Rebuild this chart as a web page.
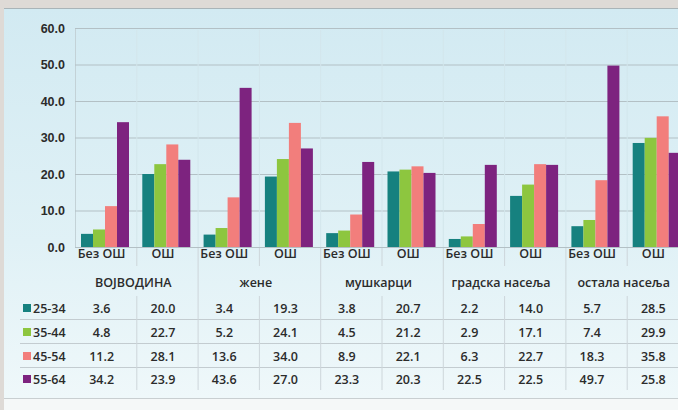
<!DOCTYPE html>
<html>
<head>
<meta charset="utf-8">
<script src="https://cdn.jsdelivr.net/npm/d3@7"></script>
<style>
  body { margin: 0; background: #dedad6; }
  svg { display: block; font-family: 'Open Sans', sans-serif; font-weight: 600; }
  text { fill: #2b2b2b; }
</style>
</head>
<body>
<div id="chart"></div>
<script>
// groups and sub columns
var groups = ['ВОЈВОДИНА', 'жене', 'мушкарци', 'градска насеља', 'остала насеља']
var subCols = ['Без ОШ', 'ОШ']
var ageGroups = ['25-34', '35-44', '45-54', '55-64']

var v2534 = [3.6, 20.0, 3.4, 19.3, 3.8, 20.7, 2.2, 14.0, 5.7, 28.5]
var v3544 = [4.8, 22.7, 5.2, 24.1, 4.5, 21.2, 2.9, 17.1, 7.4, 29.9]
var v4554 = [11.2, 28.1, 13.6, 34.0, 8.9, 22.1, 6.3, 22.7, 18.3, 35.8]
var v5564 = [34.2, 23.9, 43.6, 27.0, 23.3, 20.3, 22.5, 22.5, 49.7, 25.8]

var yTicks = [0, 10, 20, 30, 40, 50, 60]

var seriesValues = [v2534, v3544, v4554, v5564]
var colors = ['#16817f', '#8dc63f', '#f27e7c', '#7d237f']

var width = 678
var height = 410
var fontSize = '12.5px'

var svg = d3
  .select('#chart')
  .append('svg')
  .attr('width', width)
  .attr('height', height)

// column keys, one per bar group
var columns = []
groups.forEach((g, gi) => {
  subCols.forEach((s, si) => {
    columns.push({ key: gi + '-' + si, group: g, sub: s, idx: gi * 2 + si })
  })
})

var plotLeft = 75
var colStep = 61.3

const xScale = d3
  .scaleBand()
  .domain(columns.map(d => d.key))
  .range([plotLeft, plotLeft + colStep * columns.length])

const barScale = d3
  .scaleBand()
  .domain(ageGroups)
  .range([6, 54])

const yScale = d3
  .scaleLinear()
  .domain([0, 60])
  .range([247, 28])

// panel background
var defs = svg.append('defs')
var grad = defs
  .append('linearGradient')
  .attr('id', 'panelGrad')
  .attr('x1', 0)
  .attr('y1', 0)
  .attr('x2', 0)
  .attr('y2', 1)
grad.append('stop').attr('offset', '0%').attr('stop-color', '#d2eaf2')
grad.append('stop').attr('offset', '60%').attr('stop-color', '#e0f1f6')
grad.append('stop').attr('offset', '100%').attr('stop-color', '#eff8fa')

svg
  .append('rect')
  .attr('x', 4)
  .attr('y', 8)
  .attr('width', width)
  .attr('height', 390)
  .attr('fill', 'url(#panelGrad)')
svg
  .append('line')
  .attr('x1', 4)
  .attr('x2', width)
  .attr('y1', 8.5)
  .attr('y2', 8.5)
  .attr('stroke', '#a9b4b8')
svg
  .append('rect')
  .attr('x', 4)
  .attr('y', 399)
  .attr('width', width)
  .attr('height', 11)
  .attr('fill', '#f5f8f8')
svg
  .append('line')
  .attr('x1', 4)
  .attr('x2', width)
  .attr('y1', 398.5)
  .attr('y2', 398.5)
  .attr('stroke', '#c9cfd1')

// y gridlines and labels
var yAxis = d3
  .axisLeft(yScale)
  .tickValues(yTicks)
  .tickSize(-(width - plotLeft))
  .tickFormat(d3.format('.1f'))
  .tickPadding(10)

svg
  .append('g')
  .attr('class', 'axis y-axis')
  .attr('transform', 'translate(' + plotLeft + ',0)')
  .call(yAxis)

svg.select('.y-axis .domain').attr('stroke', '#c3d2d7')
svg.selectAll('.y-axis .tick line').attr('stroke', '#b3c0c5').attr('stroke-width', 1)
svg
  .selectAll('.y-axis .tick text')
  .style('font-size', fontSize)
  .style('font-weight', 700)
  .attr('fill', '#333')

// faint vertical column lines in the plot
svg
  .append('g')
  .selectAll('line')
  .data(columns.slice(1))
  .enter()
  .append('line')
  .attr('x1', d => xScale(d.key) + 0.5)
  .attr('x2', d => xScale(d.key) + 0.5)
  .attr('y1', 30)
  .attr('y2', 247)
  .attr('stroke', '#d3e6ec')

// bars
var bars = []
seriesValues.forEach((vals, si) => {
  vals.forEach((v, ci) => {
    bars.push({ age: ageGroups[si], color: colors[si], value: v, col: columns[ci] })
  })
})

svg
  .append('g')
  .selectAll('rect')
  .data(bars)
  .enter()
  .append('rect')
  .attr('x', d => xScale(d.col.key) + barScale(d.age))
  .attr('y', d => yScale(d.value))
  .attr('width', barScale.bandwidth())
  .attr('height', d => yScale(0) - yScale(d.value))
  .attr('fill', d => d.color)

// table
var table = svg.append('g').attr('class', 'table')
var rowY = [308, 332, 356, 379]
var lineY = [319.5, 343.5, 367.5]

table
  .selectAll('.hline')
  .data(lineY)
  .enter()
  .append('line')
  .attr('x1', 20)
  .attr('x2', width)
  .attr('y1', d => d)
  .attr('y2', d => d)
  .attr('stroke', '#c3ccd0')

// group separators, full height
table
  .selectAll('.gline')
  .data(groups.slice(1))
  .enter()
  .append('line')
  .attr('x1', (d, i) => xScale((i + 1) + '-0') + 0.5)
  .attr('x2', (d, i) => xScale((i + 1) + '-0') + 0.5)
  .attr('y1', 248)
  .attr('y2', 390)
  .attr('stroke', '#cdd6da')

// inner separators, skip the group label row
groups.forEach((g, gi) => {
  var x = xScale(gi + '-1') + 0.5
  table
    .append('line')
    .attr('x1', x)
    .attr('x2', x)
    .attr('y1', 248)
    .attr('y2', 266)
    .attr('stroke', '#cdd6da')
  table
    .append('line')
    .attr('x1', x)
    .attr('x2', x)
    .attr('y1', 296)
    .attr('y2', 390)
    .attr('stroke', '#cdd6da')
})

var cellShift = -4

table
  .selectAll('.sub')
  .data(columns)
  .enter()
  .append('text')
  .attr('x', d => xScale(d.key) + xScale.bandwidth() / 2 + cellShift)
  .attr('y', 258)
  .attr('text-anchor', 'middle')
  .style('font-size', fontSize)
  .text(d => d.sub)

table
  .selectAll('.grp')
  .data(groups)
  .enter()
  .append('text')
  .attr('x', (d, i) => xScale(i + '-1') - 3)
  .attr('y', 287)
  .attr('text-anchor', 'middle')
  .style('font-size', fontSize)
  .text(d => d)

// legend column
ageGroups.forEach((a, ai) => {
  table
    .append('rect')
    .attr('x', 23)
    .attr('y', rowY[ai] - 4)
    .attr('width', 8)
    .attr('height', 8)
    .attr('fill', colors[ai])
  table
    .append('text')
    .attr('x', 33)
    .attr('y', rowY[ai] + 4.5)
    .style('font-size', fontSize)
    .text(a)
})

table
  .selectAll('.val')
  .data(bars)
  .enter()
  .append('text')
  .attr('x', d => xScale(d.col.key) + xScale.bandwidth() / 2 + cellShift)
  .attr('y', d => rowY[ageGroups.indexOf(d.age)] + 4.5)
  .attr('text-anchor', 'middle')
  .style('font-size', fontSize)
  .text(d => d.value.toFixed(1))
</script>
</body>
</html>
